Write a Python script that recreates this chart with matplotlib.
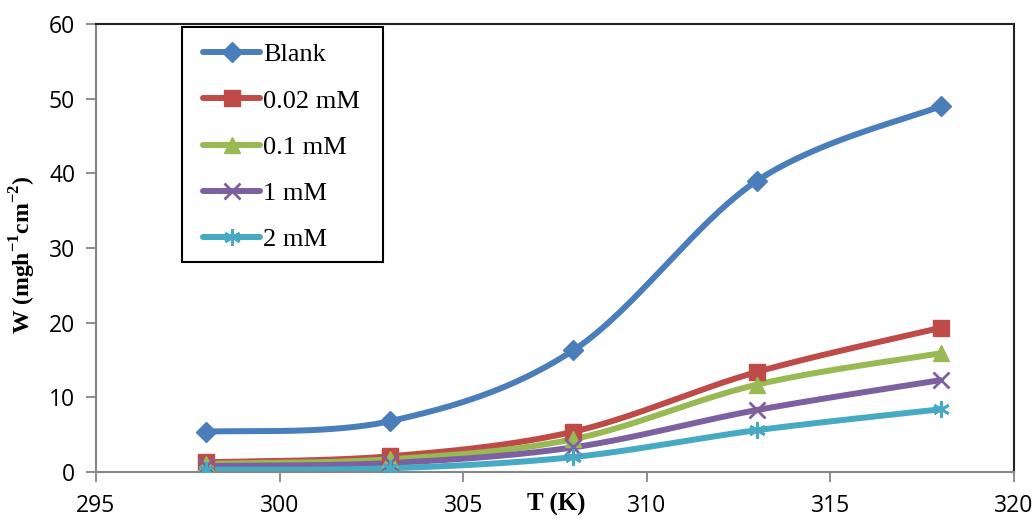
import numpy as np
from matplotlib import pyplot as plt
from matplotlib.patches import Rectangle

plt.rcParams.update({
    'font.family': 'Open Sans',
    'mathtext.fontset': 'custom',
    'mathtext.rm': 'Liberation Serif',
    'mathtext.bf': 'Liberation Serif:bold',
})

# data
temps = [298, 303, 308, 313, 318]
blank = [5.4, 6.8, 16.3, 39.0, 49.0]
c002 = [1.3, 2.1, 5.4, 13.4, 19.3]
c01 = [1.1, 1.7, 4.4, 11.7, 15.9]
c1 = [0.8, 1.2, 3.3, 8.3, 12.3]
c2 = [0.3, 0.5, 2.0, 5.6, 8.4]

labels = ['Blank', '0.02 mM', '0.1 mM', '1 mM', '2 mM']
colors = ['#4A7EBB', '#BE4B48', '#98B954', '#7D60A0', '#46AAC5']
markers = ['D', 's', '^', 'x', (6, 2, 0)]
msizes = [10, 12, 12, 12, 12]


def smooth(x, y, n=40):
    # Excel-style smoothed line: cubic Bezier segments through the points
    p = np.column_stack([x, y]).astype(float)
    pp = np.vstack([p[0], p, p[-1]])
    out = []
    t = np.linspace(0, 1, n)[:, None]
    for i in range(len(p) - 1):
        a, d = p[i], p[i + 1]
        b = a + (pp[i + 2] - pp[i]) / 6
        c = d - (pp[i + 3] - pp[i + 1]) / 6
        seg = (1 - t)**3 * a + 3 * (1 - t)**2 * t * b + 3 * (1 - t) * t**2 * c + t**3 * d
        out.append(seg)
    s = np.vstack(out)
    return s[:, 0], s[:, 1]


fig = plt.figure(figsize=(10.35, 5.19), dpi=100)
ax = fig.add_axes([96/1035, 1-472/519, 918/1035, 448/519])

handles = []
for ys, lab, col, mk, ms in zip([blank, c002, c01, c1, c2], labels, colors, markers, msizes):
    sx, sy = smooth(temps, ys)
    mew = 2 if mk in ('x', (6, 2, 0)) else 1
    ax.plot(sx, sy, '-', color=col, lw=4.3, solid_capstyle='round', zorder=2)
    ax.plot(temps, ys, linestyle='none', marker=mk, ms=ms, color=col,
            mec=col, mew=mew, zorder=3)
    h, = ax.plot([], [], '-', color=col, lw=4.3, marker=mk, ms=ms, mec=col,
                 mew=mew, solid_capstyle='round')
    handles.append(h)

ax.set_xlim(295, 320)
ax.set_ylim(0, 60)
ax.set_xticks(range(295, 321, 5))
ax.set_yticks(range(0, 61, 10))

for s in ['left', 'bottom']:
    ax.spines[s].set_color('#868686')
    ax.spines[s].set_linewidth(1.5)
for s in ['top', 'right']:
    ax.spines[s].set_color('#222222')
    ax.spines[s].set_linewidth(1.5)
ax.tick_params(axis='both', colors='#868686', labelcolor='black', labelsize=16.5, width=1.3, length=7)
ax.tick_params(axis='x', pad=9)
ax.tick_params(axis='y', pad=8)

ax.set_xlabel('T (K)', fontfamily='Liberation Serif', fontweight='bold', fontsize=18)
ax.xaxis.set_label_coords((556-96)/918, -0.047)
fig.text(23/1035, 1-255/519, r'W (mgh$^{\mathbf{-1}}$cm$^{\mathbf{-2}}$)', rotation=90,
         ha='center', va='center', fontfamily='Liberation Serif', fontweight='bold', fontsize=17)

# legend frame as in the reference, entries placed inside it
ax.add_patch(Rectangle(((182-96)/918, (472-262)/448), (383-182)/918, (262-27)/448,
                       transform=ax.transAxes, facecolor='white', edgecolor='black',
                       lw=1.5, zorder=4))
leg = ax.legend(handles, labels, loc='upper left', bbox_to_anchor=((203-96)/918, (472-43)/448),
                prop={'family': 'Liberation Serif', 'size': 19}, frameon=False,
                handlelength=2.16, handletextpad=0.11, labelspacing=0.86,
                borderpad=0, borderaxespad=0)
leg.set_zorder(5)

fig.savefig('out.png', dpi=100)
